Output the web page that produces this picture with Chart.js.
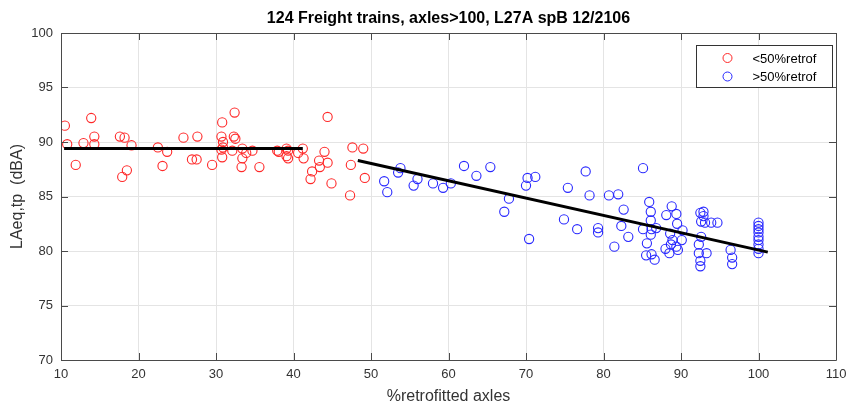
<!DOCTYPE html>
<html>
<head>
<meta charset="utf-8">
<script src="https://cdn.jsdelivr.net/npm/chart.js@4/dist/chart.umd.min.js"></script>
<style>
  html, body { margin: 0; padding: 0; background: #fff; }
  #wrap { width: 846px; height: 408px; position: relative; }
</style>
</head>
<body>
<div id="wrap"><canvas id="c" width="846" height="408"></canvas></div>
<script>
// Trains with less than 50% retrofitted axles
const lowX = [10.5,13.9,10.8,12.9,14.3,14.3,11.9,17.6,18.2,19.1,17.9,18.5,22.5,23.7,23.1,25.8,27.6,26.9,27.5,29.5,
  32.4,30.8,30.7,32.3,32.5,30.9,30.9,30.7,32.1,33.4,33.9,34.7,33.4,30.8,33.3,35.6,37.9,38.1,39.1,39.3,39.1,39.3,40.6,41.2,41.3,
  44.4,44.0,43.3,44.4,43.4,42.4,42.2,44.9,47.3,47.6,47.4,49.0,49.2];
const lowY = [91.5,92.2,89.8,89.9,90.5,89.8,87.9,90.5,90.4,89.7,86.8,87.4,89.5,89.1,87.8,90.4,90.5,88.4,88.4,87.9,
  92.7,91.8,90.5,90.5,90.3,90.0,89.5,89.3,89.2,89.4,89.0,89.2,88.5,88.6,87.7,87.7,89.2,89.1,89.4,89.2,88.7,88.5,89.0,89.4,88.5,
  92.3,89.1,88.3,88.1,87.7,87.3,86.6,86.2,85.1,89.5,87.9,89.4,86.7];

// Trains with more than 50% retrofitted axles
const highX = [51.7,52.1,53.5,53.8,56.0,55.5,58.0,59.3,60.3,62.0,63.6,65.4,67.8,67.2,70.2,71.2,70.0,70.4,75.4,74.9,76.6,77.7,78.2,
  79.3,79.3,80.7,81.9,82.6,82.3,83.2,81.4,85.1,85.9,86.1,86.1,85.1,86.2,86.1,85.6,85.5,86.2,86.6,86.8,88.8,89.4,88.1,89.5,90.2,
  88.6,90.1,88.9,88.7,89.4,89.6,88.0,88.5,92.5,92.9,92.9,92.6,93.1,93.9,94.7,92.6,92.3,93.3,92.3,92.5,92.5,96.4,96.6,96.6,
  100,100,100,100,100,100,100,100,100];
const highY = [86.4,85.4,87.2,87.6,86.6,86.0,86.2,85.8,86.2,87.8,86.9,87.7,84.8,83.6,86.7,86.8,86.0,81.1,85.8,82.9,82.0,87.3,85.1,
  82.1,81.7,85.1,85.2,83.8,82.3,81.3,80.4,87.6,84.5,83.6,82.8,82.0,82.0,81.5,80.7,79.6,79.7,79.2,82.1,84.1,83.4,83.3,82.5,81.9,
  81.6,81.0,81.0,80.6,80.4,80.1,80.2,79.8,83.5,83.6,83.2,82.7,82.6,82.6,82.6,81.3,80.6,79.8,79.8,79.1,78.6,80.1,79.4,78.8,
  82.6,82.3,82.0,81.7,81.3,81.0,80.6,80.2,79.8];

// Fitted trend lines (endpoints)
const fitLowX = [10.4, 41.2];
const fitLowY = [89.4, 89.4];
const fitHighX = [48.3, 101.2];
const fitHighY = [88.3, 79.9];

// Axis ticks
const xTicks = [10, 20, 30, 40, 50, 60, 70, 80, 90, 100, 110];
const yTicks = [70, 75, 80, 85, 90, 95, 100];

const titleText = '124 Freight trains, axles>100, L27A spB 12/2106';
const xLabel = '%retrofitted axles';
const yLabel = 'LAeq,tp  (dBA)';
const legendLabels = ['<50%retrof', '>50%retrof'];

const pts = (xs, ys) => xs.map((x, i) => ({ x: x, y: ys[i] }));
const FONT = '"Liberation Sans", Arial, sans-serif';
const AXIS = '#4a4a4a';
const TEXT = '#333333';

// Box, inward ticks, title and legend in a MATLAB-like style
const decorations = {
  id: 'decorations',
  afterDraw(chart) {
    const { ctx, chartArea: a, scales } = chart;
    const xs = scales.x, ys = scales.y;
    const tl = 7;
    ctx.save();
    ctx.strokeStyle = AXIS;
    ctx.lineWidth = 1;
    ctx.beginPath();
    ctx.rect(Math.round(a.left) + 0.5, Math.round(a.top) + 0.5, Math.round(a.right - a.left), Math.round(a.bottom - a.top));
    ctx.stroke();
    ctx.beginPath();
    xTicks.forEach(v => {
      const px = Math.round(xs.getPixelForValue(v)) + 0.5;
      ctx.moveTo(px, a.bottom); ctx.lineTo(px, a.bottom - tl);
      ctx.moveTo(px, a.top); ctx.lineTo(px, a.top + tl);
    });
    yTicks.forEach(v => {
      const py = Math.round(ys.getPixelForValue(v)) + 0.5;
      ctx.moveTo(a.left, py); ctx.lineTo(a.left + tl, py);
      ctx.moveTo(a.right, py); ctx.lineTo(a.right - tl, py);
    });
    ctx.stroke();

    // title
    ctx.fillStyle = '#000';
    ctx.font = 'bold 16px ' + FONT;
    ctx.textAlign = 'center';
    ctx.textBaseline = 'middle';
    ctx.fillText(titleText, (a.left + a.right) / 2, 19);

    // legend
    const bx = 696.5, by = 45.5, bw = 136, bh = 42;
    ctx.fillStyle = '#fff';
    ctx.fillRect(bx, by, bw, bh);
    ctx.strokeStyle = '#333';
    ctx.strokeRect(bx, by, bw, bh);
    ctx.font = '13px ' + FONT;
    ctx.textAlign = 'left';
    chart.data.datasets.filter(d => legendLabels.includes(d.label)).forEach((d, i) => {
      const cy = by + 12.5 + i * 18.5;
      ctx.beginPath();
      ctx.strokeStyle = d.borderColor;
      ctx.arc(bx + 31, cy, 4.5, 0, Math.PI * 2);
      ctx.stroke();
      ctx.fillStyle = '#000';
      ctx.fillText(d.label, bx + 56, cy + 1);
    });
    ctx.restore();
  }
};

new Chart(document.getElementById('c'), {
  type: 'scatter',
  data: {
    datasets: [
      { type: 'line', label: 'fitLow', data: pts(fitLowX, fitLowY), borderColor: '#000', borderWidth: 3,
        pointRadius: 0, fill: false, order: 0 },
      { type: 'line', label: 'fitHigh', data: pts(fitHighX, fitHighY), borderColor: '#000', borderWidth: 3,
        pointRadius: 0, fill: false, order: 0 },
      { label: legendLabels[0], data: pts(lowX, lowY), borderColor: 'rgb(255,40,40)', backgroundColor: 'rgba(0,0,0,0)',
        pointRadius: 4.6, borderWidth: 1.1, order: 1 },
      { label: legendLabels[1], data: pts(highX, highY), borderColor: 'rgb(40,40,255)', backgroundColor: 'rgba(0,0,0,0)',
        pointRadius: 4.6, borderWidth: 1.1, order: 1 }
    ]
  },
  options: {
    responsive: false,
    animation: false,
    layout: { padding: { top: 33, right: 0, left: 0, bottom: 0 } },
    plugins: { legend: { display: false }, title: { display: false }, tooltip: { enabled: false } },
    scales: {
      x: {
        type: 'linear', min: 10, max: 110,
        afterBuildTicks: s => { s.ticks = xTicks.map(v => ({ value: v })); },
        afterFit: s => { s.height = 48; s.paddingRight = 10; s.paddingLeft = 0; },
        grid: { color: '#e4e4e4', drawTicks: false },
        border: { display: false },
        ticks: { padding: 7, color: TEXT, font: { family: FONT, size: 13 } },
        title: { display: true, text: xLabel, color: TEXT, font: { family: FONT, size: 16 }, padding: { top: 0, bottom: 2 } }
      },
      y: {
        type: 'linear', min: 70, max: 100,
        afterBuildTicks: s => { s.ticks = yTicks.map(v => ({ value: v })); },
        afterFit: s => { s.width = 61; },
        grid: { color: '#e4e4e4', drawTicks: false },
        border: { display: false },
        ticks: { padding: 8, color: TEXT, font: { family: FONT, size: 13 } },
        title: { display: true, text: yLabel, color: TEXT, font: { family: FONT, size: 16 }, padding: { top: 8, bottom: 0 } }
      }
    }
  },
  plugins: [decorations]
});
</script>
</body>
</html>
